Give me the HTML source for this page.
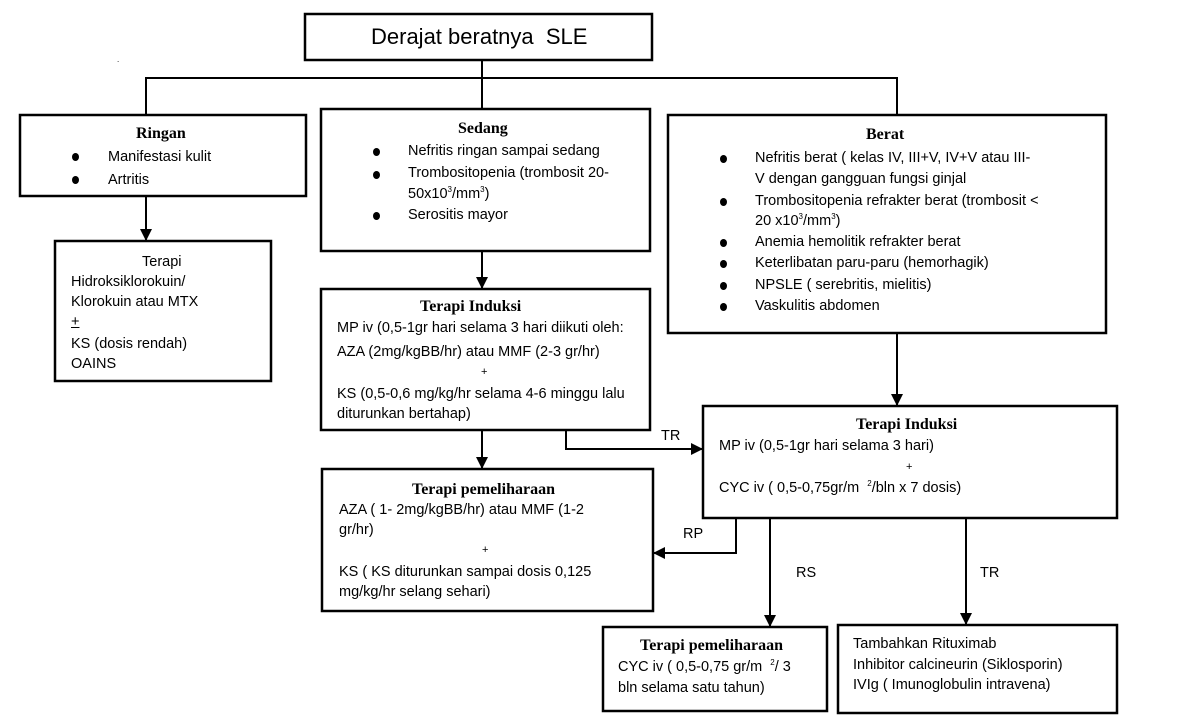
<!DOCTYPE html>
<html><head><meta charset="utf-8"><style>
body{margin:0;width:1187px;height:723px;background:#fff;position:relative;overflow:hidden;font-family:"Liberation Sans Narrow","Liberation Sans",sans-serif;font-size:14.5px;color:#000}
.t{position:absolute;white-space:nowrap;line-height:16px}
.b{font-family:"Liberation Serif",serif;font-weight:bold;font-size:16px}
.d{position:absolute;width:7px;height:8px;border-radius:50%;background:#000}
sup{font-size:8px;line-height:0;vertical-align:6px}
svg{position:absolute;left:0;top:0}
</style></head><body>
<svg width="1187" height="723">
<defs><marker id="a" markerWidth="12" markerHeight="12" refX="11" refY="6" orient="auto" markerUnits="userSpaceOnUse"><path d="M0,0 L12,6 L0,12 z"/></marker></defs>
<g fill="none" stroke="#000" stroke-width="2.5">
<rect x="305" y="14" width="347" height="46"/>
<rect x="20" y="115" width="286" height="81"/>
<rect x="55" y="241" width="216" height="140"/>
<rect x="321" y="109" width="329" height="142"/>
<rect x="321" y="289" width="329" height="141"/>
<rect x="322" y="469" width="331" height="142"/>
<rect x="668" y="115" width="438" height="218"/>
<rect x="703" y="406" width="414" height="112"/>
<rect x="603" y="627" width="224" height="84"/>
<rect x="838" y="625" width="279" height="88"/>
</g>
<g fill="none" stroke="#000" stroke-width="2">
<path d="M482 60 V109"/>
<path d="M146 115 V78 H897 V115"/>
<path d="M146 196 V240" marker-end="url(#a)"/>
<path d="M482 251 V288" marker-end="url(#a)"/>
<path d="M482 430 V468" marker-end="url(#a)"/>
<path d="M897 333 V405" marker-end="url(#a)"/>
<path d="M566 430 V449 H702" marker-end="url(#a)"/>
<path d="M736 518 V553 H654" marker-end="url(#a)"/>
<path d="M770 518 V626" marker-end="url(#a)"/>
<path d="M966 518 V624" marker-end="url(#a)"/>
</g>
</svg>
<div class="t" style="left:371px;top:24px;font-size:22px;line-height:26px">Derajat beratnya&nbsp; SLE</div>
<div class="t" style="left:117px;top:52px;font-size:8px">.</div>

<div class="t b" style="left:136px;top:126px">Ringan</div>
<div class="d" style="left:72px;top:153px"></div><div class="t" style="left:108px;top:149px">Manifestasi kulit</div>
<div class="d" style="left:72px;top:176px"></div><div class="t" style="left:108px;top:172px">Artritis</div>

<div class="t" style="left:142px;top:254px">Terapi</div>
<div class="t" style="left:71px;top:274px">Hidroksiklorokuin/</div>
<div class="t" style="left:71px;top:294px">Klorokuin atau MTX</div>
<div class="t" style="left:71px;top:314px;text-decoration:underline">+</div>
<div class="t" style="left:71px;top:336px">KS (dosis rendah)</div>
<div class="t" style="left:71px;top:356px">OAINS</div>

<div class="t b" style="left:458px;top:121px">Sedang</div>
<div class="d" style="left:373px;top:148px"></div><div class="t" style="left:408px;top:143px">Nefritis ringan sampai sedang</div>
<div class="d" style="left:373px;top:171px"></div><div class="t" style="left:408px;top:165px">Trombositopenia (trombosit 20-</div>
<div class="t" style="left:408px;top:186px">50x10<sup>3</sup>/mm<sup>3</sup>)</div>
<div class="d" style="left:373px;top:212px"></div><div class="t" style="left:408px;top:207px">Serositis mayor</div>

<div class="t b" style="left:420px;top:299px">Terapi Induksi</div>
<div class="t" style="left:337px;top:320px">MP iv (0,5-1gr hari selama 3 hari diikuti oleh:</div>
<div class="t" style="left:337px;top:344px">AZA (2mg/kgBB/hr) atau MMF (2-3 gr/hr)</div>
<div class="t" style="left:481px;top:364px;font-size:11px">+</div>
<div class="t" style="left:337px;top:386px">KS (0,5-0,6 mg/kg/hr selama 4-6 minggu lalu</div>
<div class="t" style="left:337px;top:406px">diturunkan bertahap)</div>

<div class="t b" style="left:412px;top:482px">Terapi pemeliharaan</div>
<div class="t" style="left:339px;top:502px">AZA ( 1- 2mg/kgBB/hr) atau MMF (1-2</div>
<div class="t" style="left:339px;top:522px">gr/hr)</div>
<div class="t" style="left:482px;top:542px;font-size:11px">+</div>
<div class="t" style="left:339px;top:564px">KS ( KS diturunkan sampai dosis 0,125</div>
<div class="t" style="left:339px;top:584px">mg/kg/hr selang sehari)</div>

<div class="t b" style="left:866px;top:127px">Berat</div>
<div class="d" style="left:720px;top:155px"></div><div class="t" style="left:755px;top:150px">Nefritis berat ( kelas IV, III+V, IV+V atau III-</div>
<div class="t" style="left:755px;top:171px">V dengan gangguan fungsi ginjal</div>
<div class="d" style="left:720px;top:198px"></div><div class="t" style="left:755px;top:193px">Trombositopenia refrakter berat (trombosit &lt;</div>
<div class="t" style="left:755px;top:213px">20 x10<sup>3</sup>/mm<sup>3</sup>)</div>
<div class="d" style="left:720px;top:239px"></div><div class="t" style="left:755px;top:234px">Anemia hemolitik refrakter berat</div>
<div class="d" style="left:720px;top:260px"></div><div class="t" style="left:755px;top:255px">Keterlibatan paru-paru (hemorhagik)</div>
<div class="d" style="left:720px;top:282px"></div><div class="t" style="left:755px;top:277px">NPSLE ( serebritis, mielitis)</div>
<div class="d" style="left:720px;top:303px"></div><div class="t" style="left:755px;top:298px">Vaskulitis abdomen</div>

<div class="t b" style="left:856px;top:417px">Terapi Induksi</div>
<div class="t" style="left:719px;top:438px">MP iv (0,5-1gr hari selama 3 hari)</div>
<div class="t" style="left:906px;top:459px;font-size:11px">+</div>
<div class="t" style="left:719px;top:480px">CYC iv ( 0,5-0,75gr/m &nbsp;<sup>2</sup>/bln x 7 dosis)</div>

<div class="t" style="left:661px;top:428px">TR</div>
<div class="t" style="left:683px;top:526px">RP</div>
<div class="t" style="left:796px;top:565px">RS</div>
<div class="t" style="left:980px;top:565px">TR</div>

<div class="t b" style="left:640px;top:638px">Terapi pemeliharaan</div>
<div class="t" style="left:618px;top:659px">CYC iv ( 0,5-0,75 gr/m &nbsp;<sup>2</sup>/ 3</div>
<div class="t" style="left:618px;top:680px">bln selama satu tahun)</div>

<div class="t" style="left:853px;top:636px">Tambahkan Rituximab</div>
<div class="t" style="left:853px;top:657px">Inhibitor calcineurin (Siklosporin)</div>
<div class="t" style="left:853px;top:677px">IVIg ( Imunoglobulin intravena)</div>
</body></html>
